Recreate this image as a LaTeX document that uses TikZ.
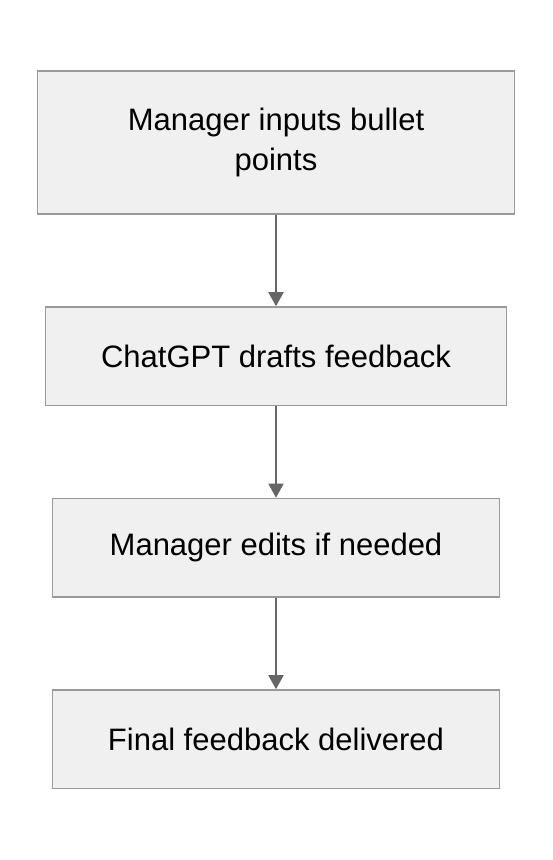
\documentclass[tikz,border=0pt]{standalone}
\usepackage{fontspec}
\setmainfont{Liberation Sans}
\usetikzlibrary{arrows.meta,positioning}
\definecolor{boxfill}{HTML}{F0F0F0}
\definecolor{boxline}{HTML}{9A9A9A}
\definecolor{flowline}{HTML}{666666}

\begin{document}
\begin{tikzpicture}[
  stepbox/.style={rectangle, draw=boxline, line width=1.6pt, fill=boxfill, align=center, inner sep=0pt, minimum height=98.5pt, font=\fontsize{31}{40}\selectfont},
  flow/.style={draw=flowline, line width=2pt, -{Triangle[width=15pt,length=14pt]}},
  node distance=91.4pt
]
\useasboundingbox (0pt,0pt) rectangle (552pt,-860pt);
\node[stepbox, minimum width=477pt, minimum height=143pt] (inputs) at (276pt,-142.5pt) {Manager inputs bullet\\points};
\node[stepbox, minimum width=461pt, below=of inputs] (drafts) {ChatGPT drafts feedback};
\node[stepbox, minimum width=447pt, below=of drafts] (edits) {Manager edits if needed};
\node[stepbox, minimum width=447pt, below=of edits] (final) {Final feedback delivered};

\draw[flow] (inputs) -- (drafts);
\draw[flow] (drafts) -- (edits);
\draw[flow] (edits) -- (final);
\end{tikzpicture}
\end{document}
